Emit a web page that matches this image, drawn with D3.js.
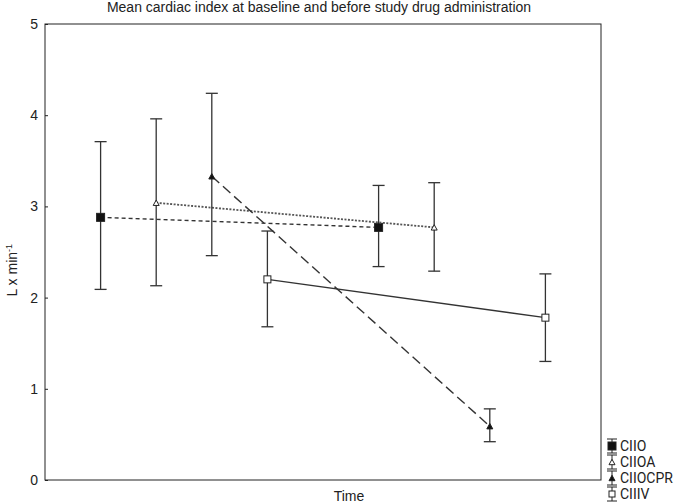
<!DOCTYPE html>
<html>
<head>
<meta charset="utf-8">
<script src="https://cdn.jsdelivr.net/npm/d3@7"></script>
<style>
  body { margin: 0; background: #fff; }
  svg { display: block; }
</style>
</head>
<body>
<div id="chart"></div>
<script>
const seriesNames = ["CIIO", "CIIOA", "CIIOCPR", "CIIIV"];
const timePositions = [[1, 6], [2, 7], [3, 8], [4, 9]];
const meanValues = [[2.88, 2.77], [3.04, 2.77], [3.33, 0.59], [2.20, 1.78]];
const upperValues = [[3.71, 3.23], [3.96, 3.26], [4.24, 0.78], [2.73, 2.26]];
const lowerValues = [[2.09, 2.34], [2.13, 2.29], [2.46, 0.42], [1.68, 1.30]];
const yTicks = [0, 1, 2, 3, 4, 5];

const markers = ["filledSquare", "openTriangle", "filledTriangle", "openSquare"];
const dashes = ["4,3", "2,1.5", "10,5", null];

const W = 685, H = 504;
const margin = {top: 24, right: 84, bottom: 24, left: 45};

const svg = d3.select("#chart").append("svg")
    .attr("width", W).attr("height", H)
    .style("font-family", "'Liberation Sans Narrow', 'Liberation Sans', Arial, sans-serif");

const x = d3.scaleLinear().domain([0, 10]).range([margin.left, W - margin.right]);
const y = d3.scaleLinear().domain([0, 5]).range([H - margin.bottom, margin.top]);

// frame
svg.append("rect")
    .attr("x", x(0)).attr("y", y(5))
    .attr("width", x(10) - x(0)).attr("height", y(0) - y(5))
    .attr("fill", "none").attr("stroke", "#222").attr("stroke-width", 1);

// y axis, ticks inside
const yAxis = svg.append("g")
    .attr("transform", `translate(${x(0)},0)`)
    .call(d3.axisRight(y).tickValues(yTicks).tickSize(3).tickFormat(d3.format("d")));
yAxis.select(".domain").remove();
yAxis.selectAll("line").attr("stroke", "#222");
yAxis.selectAll("text")
    .attr("x", -7).attr("text-anchor", "end")
    .attr("font-size", 14).attr("fill", "#222")
    .attr("font-family", "'Liberation Sans Narrow', Arial, sans-serif");

// title
svg.append("text")
    .attr("x", (x(0) + x(10)) / 2 - 4).attr("y", 12)
    .attr("text-anchor", "middle").attr("font-size", 14).attr("fill", "#222")
    .text("Mean cardiac index at baseline and before study drug administration");

// axis labels
svg.append("text")
    .attr("x", (x(0) + x(10)) / 2 + 26).attr("y", 501)
    .attr("text-anchor", "middle").attr("font-size", 14).attr("fill", "#222")
    .text("Time");

const yl = svg.append("text")
    .attr("transform", `translate(17,${y(2.3)}) rotate(-90)`)
    .attr("text-anchor", "middle").attr("font-size", 14).attr("fill", "#222");
yl.append("tspan").text("L x min");
yl.append("tspan").attr("dy", -5).attr("font-size", 9).text("-1");

function drawMarker(g, type, cx, cy, s) {
    if (type.endsWith("Square")) {
        g.append("rect")
            .attr("x", cx - s / 2).attr("y", cy - s / 2)
            .attr("width", s).attr("height", s)
            .attr("fill", type === "filledSquare" ? "#111" : "#fff")
            .attr("stroke", "#222").attr("stroke-width", 1);
    } else {
        const h = s * 0.9;
        g.append("path")
            .attr("d", `M${cx},${cy - h / 2}L${cx + s / 2},${cy + h / 2}L${cx - s / 2},${cy + h / 2}Z`)
            .attr("fill", type === "filledTriangle" ? "#111" : "#fff")
            .attr("stroke", "#222").attr("stroke-width", 1);
    }
}

const sizes = [8, 6, 6, 7];

seriesNames.forEach((name, i) => {
    const g = svg.append("g");
    const pts = timePositions[i].map((t, j) => ({
        t: t, m: meanValues[i][j], hi: upperValues[i][j], lo: lowerValues[i][j]
    }));

    // error bars
    pts.forEach(p => {
        g.append("line")
            .attr("x1", x(p.t)).attr("x2", x(p.t))
            .attr("y1", y(p.hi)).attr("y2", y(p.lo))
            .attr("stroke", "#333").attr("stroke-width", 1.3);
        [p.hi, p.lo].forEach(v => {
            g.append("line")
                .attr("x1", x(p.t) - 6).attr("x2", x(p.t) + 6)
                .attr("y1", y(v)).attr("y2", y(v))
                .attr("stroke", "#333").attr("stroke-width", 1.3);
        });
    });

    // connecting line
    const line = d3.line().x(d => x(d.t)).y(d => y(d.m));
    g.append("path")
        .datum(pts)
        .attr("d", line)
        .attr("fill", "none")
        .attr("stroke", i === 1 ? "#555" : "#333")
        .attr("stroke-width", i === 1 ? 1.8 : 1.4)
        .attr("stroke-dasharray", dashes[i]);

    pts.forEach(p => drawMarker(g, markers[i], x(p.t), y(p.m), sizes[i]));
});

// legend
const legend = svg.append("g");
seriesNames.forEach((name, i) => {
    const ly = 446 + i * 16;
    const lx = 612;
    legend.append("line")
        .attr("x1", lx).attr("x2", lx).attr("y1", ly - 7).attr("y2", ly + 7)
        .attr("stroke", "#222").attr("stroke-width", 1);
    [ly - 7, ly + 7].forEach(v => legend.append("line")
        .attr("x1", lx - 5).attr("x2", lx + 5).attr("y1", v).attr("y2", v)
        .attr("stroke", "#222").attr("stroke-width", 1));
    drawMarker(legend, markers[i], lx, ly, i === 0 ? 8 : 6);
    legend.append("text")
        .attr("x", lx + 8).attr("y", ly + 5)
        .attr("font-size", 14).attr("fill", "#222")
        .attr("font-family", "Roboto, Arial, sans-serif")
        .text(name);
});
</script>
</body>
</html>
